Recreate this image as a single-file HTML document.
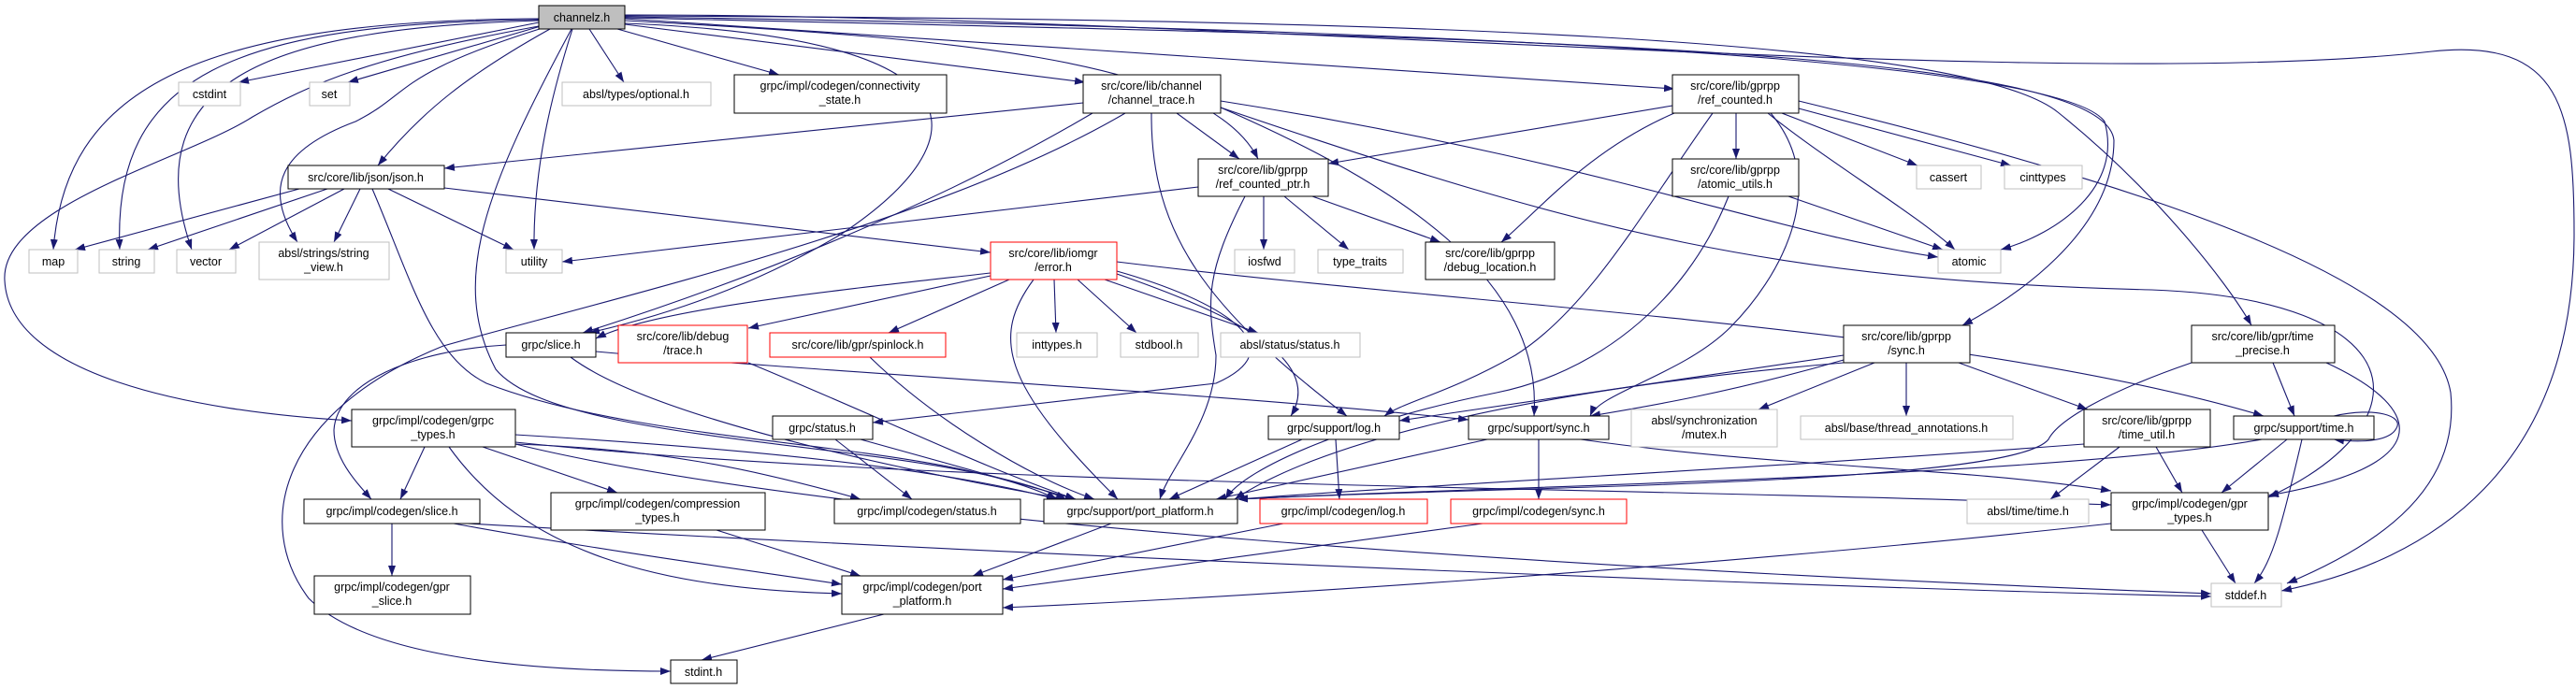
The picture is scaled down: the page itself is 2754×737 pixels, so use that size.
<!DOCTYPE html>
<html><head><meta charset="utf-8"><style>
html,body{margin:0;padding:0;background:#fff;}
svg{display:block;}
text{font-family:"Liberation Sans",sans-serif;font-size:12.5px;fill:#000;text-anchor:middle;}
.e{fill:none;stroke:#191970;stroke-width:1.1;marker-end:url(#a);}
.n{fill:#fff;stroke:#000;stroke-width:1;}
.g{fill:#fff;stroke:#bfbfbf;stroke-width:1;}
.r{fill:#fff;stroke:#ff0000;stroke-width:1;}
</style></head><body>
<svg width="2754" height="737" viewBox="0 0 2754 737" xmlns="http://www.w3.org/2000/svg">
<defs><marker id="a" viewBox="0 0 11 8" refX="11" refY="4" markerWidth="11" markerHeight="8" markerUnits="userSpaceOnUse" orient="auto"><path d="M0,0 L11,4 L0,8 z" fill="#191970"/></marker></defs>
<g>
<path class="e" d="M576,20 C200,22 70,100 57,267"/>
<path class="e" d="M576,21 C250,25 120,80 128,267"/>
<path class="e" d="M576,22 C300,30 140,80 205,267"/>
<path class="e" d="M576,24 L255,88"/>
<path class="e" d="M578,28 L372,88"/>
<path class="e" d="M580,30 C420,80 440,100 380,130 C300,160 280,200 318,259"/>
<path class="e" d="M588,31 C500,80 450,120 404,177"/>
<path class="e" d="M612,31 C590,100 570,180 571,267"/>
<path class="e" d="M668,25 C1060,40 1050,150 900,250 C800,310 700,340 630,356"/>
<path class="e" d="M630,31 L667,88"/>
<path class="e" d="M660,31 L833,80"/>
<path class="e" d="M668,26 L1160,88"/>
<path class="e" d="M668,22 C1000,40 1290,60 1345,170"/>
<path class="e" d="M668,20 L1790,95"/>
<path class="e" d="M668,18 C1500,30 2200,60 2250,130 C2270,200 2200,250 2139,267"/>
<path class="e" d="M668,19 C1600,40 2250,50 2260,150 C2260,250 2150,320 2098,348"/>
<path class="e" d="M668,17 C1500,20 2100,40 2200,120 C2300,200 2380,300 2407,348"/>
<path class="e" d="M668,16 C1300,15 2200,100 2600,55 C2740,40 2752,120 2752,250 C2752,500 2600,600 2439,632"/>
<path class="e" d="M576,28 C400,60 330,90 270,125 C200,170 0,220 5,300 C10,400 200,440 376,450"/>
<path class="e" d="M611,31 C520,200 480,300 530,395 C600,480 1000,470 1140,534"/>
<path class="e" d="M320,202 L80,267"/>
<path class="e" d="M350,202 L158,267"/>
<path class="e" d="M368,202 L245,267"/>
<path class="e" d="M385,202 L357,259"/>
<path class="e" d="M415,202 L549,267"/>
<path class="e" d="M475,201 L1059,270"/>
<path class="e" d="M398,202 C440,300 460,380 520,410 C700,480 1000,470 1130,534"/>
<path class="e" d="M1158,110 L475,180"/>
<path class="e" d="M1168,121 C1000,220 800,300 623,356"/>
<path class="e" d="M1203,121 C1000,240 650,320 474,370 C300,440 270,560 330,640 C400,710 600,718 717,718"/>
<path class="e" d="M1258,121 L1325,170"/>
<path class="e" d="M1231,121 C1230,250 1290,330 1440,445"/>
<path class="e" d="M1305,115 C1500,200 1650,300 1640,445"/>
<path class="e" d="M1305,108 C1700,170 1900,250 2072,275"/>
<path class="e" d="M1305,115 C1700,250 1900,300 2300,310 C2580,320 2600,450 2425,532"/>
<path class="e" d="M1281,200 L601,280"/>
<path class="e" d="M1351,210 L1351,267"/>
<path class="e" d="M1373,210 L1442,267"/>
<path class="e" d="M1403,210 L1540,259"/>
<path class="e" d="M1331,210 C1290,290 1290,320 1300,380 C1300,450 1250,500 1240,534"/>
<path class="e" d="M1788,113 L1420,175"/>
<path class="e" d="M1856,121 L1856,170"/>
<path class="e" d="M1790,121 C1700,160 1650,220 1605,259"/>
<path class="e" d="M1905,121 L2050,177"/>
<path class="e" d="M1923,116 L2150,177"/>
<path class="e" d="M1890,121 C1950,170 2050,230 2090,267"/>
<path class="e" d="M1831,121 C1760,220 1700,330 1620,380 C1550,420 1500,430 1480,445"/>
<path class="e" d="M1893,121 C1960,200 1900,300 1850,350 C1800,400 1710,420 1700,445"/>
<path class="e" d="M1923,108 C2300,200 2600,300 2620,420 C2630,520 2550,580 2445,624"/>
<path class="e" d="M1912,210 L2077,267"/>
<path class="e" d="M1848,210 C1800,330 1700,400 1600,420 C1450,450 1330,500 1310,534"/>
<path class="e" d="M1059,292 C900,310 700,330 637,362"/>
<path class="e" d="M1059,295 L800,351"/>
<path class="e" d="M1079,299 L950,356"/>
<path class="e" d="M1127,299 L1129,356"/>
<path class="e" d="M1152,299 L1215,356"/>
<path class="e" d="M1181,299 L1345,356"/>
<path class="e" d="M1105,299 C1060,360 1070,410 1195,534"/>
<path class="e" d="M1194,290 C1300,320 1390,370 1300,410 L933,452"/>
<path class="e" d="M1194,293 C1300,330 1420,380 1380,445"/>
<path class="e" d="M1194,280 C1600,330 2100,350 2420,445"/>
<path class="e" d="M541,369 C440,375 360,410 357,460 C357,490 380,515 397,534"/>
<path class="e" d="M610,382 C700,450 1000,510 1140,534"/>
<path class="e" d="M637,376 C900,400 1300,420 1570,449"/>
<path class="e" d="M800,388 C950,450 1050,500 1150,534"/>
<path class="e" d="M930,382 C1000,450 1100,510 1170,534"/>
<path class="e" d="M454,478 L428,534"/>
<path class="e" d="M480,478 C560,590 700,630 900,635"/>
<path class="e" d="M516,478 L660,527"/>
<path class="e" d="M551,475 C700,480 800,500 920,534"/>
<path class="e" d="M551,465 C800,480 1000,500 1130,534"/>
<path class="e" d="M551,473 C1000,520 1700,520 2257,540"/>
<path class="e" d="M551,475 C900,560 1700,610 2364,635"/>
<path class="e" d="M419,560 L419,616"/>
<path class="e" d="M485,560 C650,590 800,610 900,625"/>
<path class="e" d="M500,560 C1200,600 2000,630 2364,638"/>
<path class="e" d="M766,567 L920,616"/>
<path class="e" d="M893,470 L975,534"/>
<path class="e" d="M920,470 L1150,534"/>
<path class="e" d="M1188,560 L1040,616"/>
<path class="e" d="M1428,470 L1432,534"/>
<path class="e" d="M1392,470 L1250,534"/>
<path class="e" d="M1645,470 L1645,534"/>
<path class="e" d="M1590,470 L1300,534"/>
<path class="e" d="M1690,470 C1900,500 2100,500 2257,525"/>
<path class="e" d="M1372,560 L1072,620"/>
<path class="e" d="M1585,560 C1300,600 1150,620 1072,630"/>
<path class="e" d="M2257,560 C1800,610 1300,640 1072,650"/>
<path class="e" d="M2354,567 L2390,624"/>
<path class="e" d="M1971,380 L1496,450"/>
<path class="e" d="M1971,385 C1850,420 1760,435 1700,445"/>
<path class="e" d="M2004,388 L1880,438"/>
<path class="e" d="M2038,388 L2038,445"/>
<path class="e" d="M2094,388 L2232,438"/>
<path class="e" d="M1971,388 C1600,420 1400,480 1320,534"/>
<path class="e" d="M2430,388 L2453,445"/>
<path class="e" d="M2487,388 C2600,440 2600,500 2425,530"/>
<path class="e" d="M2343,388 C2250,420 2200,450 2190,470 C2150,520 1600,520 1323,534"/>
<path class="e" d="M2266,478 L2192,534"/>
<path class="e" d="M2305,478 L2333,527"/>
<path class="e" d="M2228,475 C1900,500 1500,520 1323,534"/>
<path class="e" d="M2495,445 C2540,435 2570,445 2562,458 C2555,472 2525,474 2495,470"/>
<path class="e" d="M2445,470 L2375,527"/>
<path class="e" d="M2461,470 C2440,560 2430,600 2410,624"/>
<path class="e" d="M2418,470 C2200,510 1600,520 1323,534"/>
<path class="e" d="M945,657 L750,706"/>
</g>
<g>
<rect x="576" y="6" width="92" height="25" fill="#bfbfbf" stroke="#000"/><text x="622" y="23">channelz.h</text>
<rect class="g" x="191" y="88" width="66" height="25"/><text x="224" y="105">cstdint</text>
<rect class="g" x="331" y="88" width="43" height="25"/><text x="352" y="105">set</text>
<rect class="g" x="601" y="88" width="159" height="25"/><text x="680" y="105">absl/types/optional.h</text>
<rect class="n" x="785" y="80" width="227" height="41"/><text x="898" y="96">grpc/impl/codegen/connectivity</text><text x="898" y="111">_state.h</text>
<rect class="n" x="1158" y="80" width="147" height="41"/><text x="1231" y="96">src/core/lib/channel</text><text x="1231" y="111">/channel_trace.h</text>
<rect class="n" x="1788" y="80" width="135" height="41"/><text x="1855" y="96">src/core/lib/gprpp</text><text x="1855" y="111">/ref_counted.h</text>
<rect class="n" x="308" y="177" width="167" height="25"/><text x="391" y="194">src/core/lib/json/json.h</text>
<rect class="n" x="1281" y="170" width="139" height="40"/><text x="1350" y="186">src/core/lib/gprpp</text><text x="1350" y="201">/ref_counted_ptr.h</text>
<rect class="n" x="1788" y="170" width="135" height="40"/><text x="1855" y="186">src/core/lib/gprpp</text><text x="1855" y="201">/atomic_utils.h</text>
<rect class="g" x="2049" y="177" width="69" height="25"/><text x="2083" y="194">cassert</text>
<rect class="g" x="2143" y="177" width="83" height="25"/><text x="2184" y="194">cinttypes</text>
<rect class="g" x="31" y="267" width="52" height="25"/><text x="57" y="284">map</text>
<rect class="g" x="106" y="267" width="59" height="25"/><text x="135" y="284">string</text>
<rect class="g" x="189" y="267" width="63" height="25"/><text x="220" y="284">vector</text>
<rect class="g" x="277" y="259" width="139" height="40"/><text x="346" y="275">absl/strings/string</text><text x="346" y="290">_view.h</text>
<rect class="g" x="541" y="267" width="60" height="25"/><text x="571" y="284">utility</text>
<rect class="r" x="1059" y="259" width="135" height="40"/><text x="1126" y="275">src/core/lib/iomgr</text><text x="1126" y="290">/error.h</text>
<rect class="g" x="1320" y="267" width="64" height="25"/><text x="1352" y="284">iosfwd</text>
<rect class="g" x="1409" y="267" width="91" height="25"/><text x="1454" y="284">type_traits</text>
<rect class="n" x="1524" y="259" width="138" height="40"/><text x="1593" y="275">src/core/lib/gprpp</text><text x="1593" y="290">/debug_location.h</text>
<rect class="g" x="2072" y="267" width="67" height="25"/><text x="2105" y="284">atomic</text>
<rect class="n" x="541" y="356" width="96" height="26"/><text x="589" y="373">grpc/slice.h</text>
<rect class="r" x="661" y="348" width="138" height="40"/><text x="730" y="364">src/core/lib/debug</text><text x="730" y="379">/trace.h</text>
<rect class="r" x="823" y="356" width="188" height="26"/><text x="917" y="373">src/core/lib/gpr/spinlock.h</text>
<rect class="g" x="1087" y="356" width="86" height="26"/><text x="1130" y="373">inttypes.h</text>
<rect class="g" x="1198" y="356" width="83" height="26"/><text x="1239" y="373">stdbool.h</text>
<rect class="g" x="1305" y="356" width="149" height="26"/><text x="1379" y="373">absl/status/status.h</text>
<rect class="n" x="1971" y="348" width="135" height="40"/><text x="2038" y="364">src/core/lib/gprpp</text><text x="2038" y="379">/sync.h</text>
<rect class="n" x="2343" y="348" width="153" height="40"/><text x="2419" y="364">src/core/lib/gpr/time</text><text x="2419" y="379">_precise.h</text>
<rect class="n" x="376" y="438" width="175" height="40"/><text x="463" y="454">grpc/impl/codegen/grpc</text><text x="463" y="469">_types.h</text>
<rect class="n" x="826" y="445" width="107" height="25"/><text x="879" y="462">grpc/status.h</text>
<rect class="n" x="1356" y="445" width="140" height="25"/><text x="1426" y="462">grpc/support/log.h</text>
<rect class="n" x="1570" y="445" width="150" height="25"/><text x="1645" y="462">grpc/support/sync.h</text>
<rect class="g" x="1744" y="438" width="156" height="40"/><text x="1822" y="454">absl/synchronization</text><text x="1822" y="469">/mutex.h</text>
<rect class="g" x="1925" y="445" width="227" height="25"/><text x="2038" y="462">absl/base/thread_annotations.h</text>
<rect class="n" x="2228" y="438" width="135" height="40"/><text x="2295" y="454">src/core/lib/gprpp</text><text x="2295" y="469">/time_util.h</text>
<rect class="n" x="2388" y="445" width="150" height="25"/><text x="2463" y="462">grpc/support/time.h</text>
<rect class="n" x="325" y="534" width="188" height="26"/><text x="419" y="551">grpc/impl/codegen/slice.h</text>
<rect class="n" x="589" y="527" width="229" height="40"/><text x="703" y="543">grpc/impl/codegen/compression</text><text x="703" y="558">_types.h</text>
<rect class="n" x="892" y="534" width="199" height="26"/><text x="991" y="551">grpc/impl/codegen/status.h</text>
<rect class="n" x="1116" y="534" width="207" height="26"/><text x="1219" y="551">grpc/support/port_platform.h</text>
<rect class="r" x="1347" y="534" width="179" height="26"/><text x="1436" y="551">grpc/impl/codegen/log.h</text>
<rect class="r" x="1551" y="534" width="188" height="26"/><text x="1645" y="551">grpc/impl/codegen/sync.h</text>
<rect class="g" x="2103" y="534" width="130" height="26"/><text x="2168" y="551">absl/time/time.h</text>
<rect class="n" x="2257" y="527" width="168" height="40"/><text x="2341" y="543">grpc/impl/codegen/gpr</text><text x="2341" y="558">_types.h</text>
<rect class="n" x="336" y="616" width="167" height="41"/><text x="419" y="632">grpc/impl/codegen/gpr</text><text x="419" y="647">_slice.h</text>
<rect class="n" x="900" y="616" width="172" height="41"/><text x="986" y="632">grpc/impl/codegen/port</text><text x="986" y="647">_platform.h</text>
<rect class="g" x="2364" y="624" width="75" height="25"/><text x="2401" y="641">stddef.h</text>
<rect class="n" x="717" y="706" width="71" height="25"/><text x="752" y="723">stdint.h</text>
</g>
</svg>
</body></html>
